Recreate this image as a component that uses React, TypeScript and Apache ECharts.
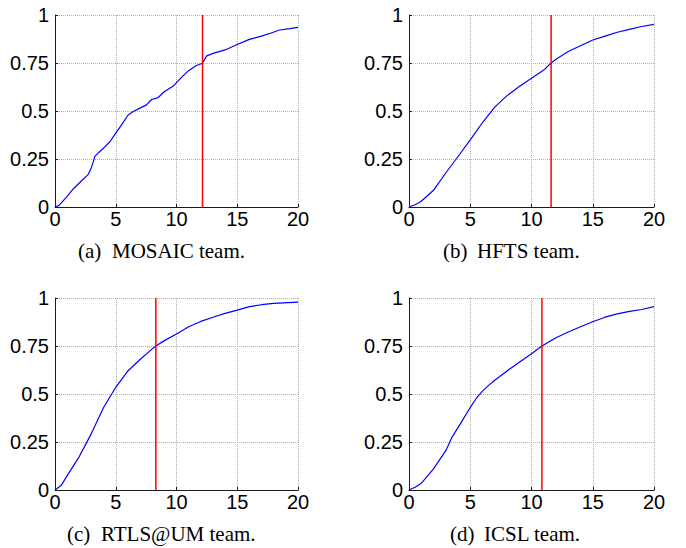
import React, { useEffect, useRef } from "react";
import * as echarts from "echarts";

// Subplot titles
const teamLetters = ["(a)", "(b)", "(c)", "(d)"];
const teamNames = ["MOSAIC team.", "HFTS team.", "RTLS@UM team.", "ICSL team."];

// Axis ticks
const xTicks = [0, 5, 10, 15, 20];
const yTicks = [0, 0.25, 0.5, 0.75, 1];

// (a) MOSAIC
const mosaicX = [0, 0.3, 0.5, 1, 1.5, 2, 2.74, 2.99, 3.15, 3.29, 4, 4.52, 5, 5.48, 6, 6.44, 6.99, 7.53, 7.95, 8.49, 8.99, 9.73, 10.41, 10.99, 11.64, 12.14, 12.49, 13.01, 14, 14.99, 16, 16.99, 17.73, 18.49, 19.32, 20];
const mosaicY = [0, 0.007, 0.02, 0.055, 0.094, 0.125, 0.17, 0.205, 0.235, 0.265, 0.307, 0.34, 0.385, 0.428, 0.478, 0.497, 0.515, 0.532, 0.56, 0.57, 0.6, 0.63, 0.675, 0.71, 0.737, 0.749, 0.787, 0.8, 0.818, 0.846, 0.873, 0.89, 0.905, 0.922, 0.929, 0.936];

// (b) HFTS
const hftsX = [0, 0.5, 1, 2, 3, 4, 5, 6, 7, 8, 9, 10, 11, 11.6, 12, 13, 14, 15, 16, 17, 18, 19, 20];
const hftsY = [0, 0.012, 0.03, 0.087, 0.177, 0.263, 0.35, 0.44, 0.52, 0.58, 0.628, 0.67, 0.713, 0.75, 0.77, 0.81, 0.84, 0.87, 0.89, 0.91, 0.925, 0.94, 0.951];

// (c) RTLS@UM
const rtlsX = [0, 0.5, 1, 2, 3, 4, 5, 6, 7, 8, 8.3, 9, 10, 11, 12, 13, 14, 15, 16, 17, 18, 20];
const rtlsY = [0, 0.023, 0.075, 0.174, 0.295, 0.43, 0.535, 0.62, 0.68, 0.735, 0.75, 0.778, 0.812, 0.85, 0.878, 0.9, 0.92, 0.937, 0.955, 0.965, 0.972, 0.979];

// (d) ICSL
const icslX = [0, 0.5, 1, 2, 3, 3.5, 4, 5, 5.5, 6, 6.5, 7, 8, 9, 10, 10.85, 12, 13, 14, 15, 16, 17, 18, 19, 20];
const icslY = [0, 0.014, 0.035, 0.11, 0.205, 0.274, 0.325, 0.43, 0.478, 0.515, 0.545, 0.572, 0.62, 0.665, 0.71, 0.75, 0.793, 0.823, 0.85, 0.876, 0.9, 0.917, 0.93, 0.94, 0.955];

// 75th percentile markers (red vertical lines)
const percentile75 = [12.14, 11.6, 8.3, 10.85];

const curvesX = [mosaicX, hftsX, rtlsX, icslX];
const curvesY = [mosaicY, hftsY, rtlsY, icslY];

export default function App() {
  const ref = useRef<HTMLDivElement>(null);

  useEffect(() => {
    if (!ref.current) return;
    const chart = echarts.init(ref.current, null, { renderer: "svg" });

    const grids = [
      { left: 55, top: 15, width: 243, height: 192 },
      { left: 409, top: 15, width: 245, height: 192 },
      { left: 55, top: 298, width: 243, height: 192 },
      { left: 409, top: 298, width: 245, height: 192 },
    ];

    const axisFont = { fontFamily: "Liberation Sans", fontSize: 20, color: "#000" };

    const xAxes = grids.map((_, i) => ({
      type: "value",
      gridIndex: i,
      min: xTicks[0],
      max: xTicks[xTicks.length - 1],
      interval: xTicks[1] - xTicks[0],
      axisLine: { show: true, onZero: false, lineStyle: { color: "#1a1a1a", width: 1 } },
      axisTick: { show: true, inside: true, length: 3, lineStyle: { color: "#1a1a1a" } },
      axisLabel: { ...axisFont, margin: 2 },
      splitLine: { show: true, lineStyle: { type: "dotted", color: "#b0b0b0", width: 1 } },
    }));

    const yAxes = grids.map((_, i) => ({
      type: "value",
      gridIndex: i,
      min: yTicks[0],
      max: yTicks[yTicks.length - 1],
      interval: yTicks[1] - yTicks[0],
      axisLine: { show: true, onZero: false, lineStyle: { color: "#1a1a1a", width: 1 } },
      axisTick: { show: true, inside: true, length: 3, lineStyle: { color: "#1a1a1a" } },
      axisLabel: { ...axisFont, margin: 6 },
      splitLine: { show: true, lineStyle: { type: "dotted", color: "#b0b0b0", width: 1 } },
    }));

    const series: any[] = [];
    for (let i = 0; i < 4; i++) {
      series.push({
        type: "line",
        xAxisIndex: i,
        yAxisIndex: i,
        data: curvesX[i].map((x, k) => [x, curvesY[i][k]]),
        showSymbol: false,
        symbol: "none",
        lineStyle: { color: "#0000ff", width: 1.2 },
        silent: true,
      });
      series.push({
        type: "line",
        xAxisIndex: i,
        yAxisIndex: i,
        data: [
          [percentile75[i], yTicks[0]],
          [percentile75[i], yTicks[yTicks.length - 1]],
        ],
        showSymbol: false,
        symbol: "none",
        lineStyle: { color: "#ff0000", width: 1.5 },
        silent: true,
      });
    }

    const captionPos = [
      { x: 78, y: 251 },
      { x: 443, y: 251 },
      { x: 67, y: 534 },
      { x: 450, y: 534 },
    ];
    const capFont = { fontFamily: "Liberation Serif", fontSize: 21, fill: "#000" };
    const graphics: any[] = [];
    captionPos.forEach((p, i) => {
      graphics.push({
        type: "text",
        x: p.x,
        y: p.y,
        style: { ...capFont, text: teamLetters[i], textAlign: "left", textVerticalAlign: "middle" },
      });
      graphics.push({
        type: "text",
        x: p.x + 34,
        y: p.y,
        style: { ...capFont, text: teamNames[i], textAlign: "left", textVerticalAlign: "middle" },
      });
    });

    chart.setOption({
      animation: false,
      backgroundColor: "#ffffff",
      grid: grids,
      xAxis: xAxes,
      yAxis: yAxes,
      series,
      graphic: graphics,
    });

    return () => chart.dispose();
  }, []);

  return (
    <div
      ref={ref}
      style={{ position: "fixed", left: 0, top: 0, width: 686, height: 548 }}
    />
  );
}
